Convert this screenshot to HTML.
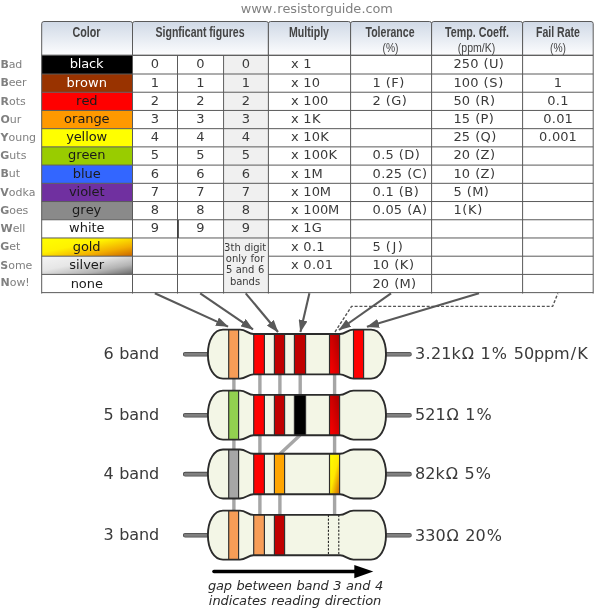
<!DOCTYPE html><html><head><meta charset="utf-8"><title>Resistor color code</title>
<style>html,body{margin:0;padding:0;background:#fff}svg{display:block}text{font-family:"DejaVu Sans","Liberation Sans",sans-serif;fill:#3a3a3a}.h{font-family:"Liberation Sans",sans-serif;font-weight:bold;font-size:14.1px;fill:#444}.s{font-family:"Liberation Sans",sans-serif;font-size:12.3px;fill:#444}.c{font-size:13px;text-anchor:middle}.m{font-size:10.4px;fill:#808080}.m tspan{font-weight:bold}.l{font-size:15px}</style></head><body>
<svg width="600" height="609" viewBox="0 0 600 609">
<defs><linearGradient id="hg" x1="0" y1="0" x2="0" y2="1"><stop offset="0" stop-color="#d0d9e6"/><stop offset="0.5" stop-color="#e6ebf2"/><stop offset="1" stop-color="#fdfdfe"/></linearGradient><linearGradient id="gold" x1="0" y1="0" x2="1" y2="1"><stop offset="0" stop-color="#ffff00"/><stop offset="0.4" stop-color="#fff200"/><stop offset="0.72" stop-color="#f2ad00"/><stop offset="1" stop-color="#c86400"/></linearGradient><linearGradient id="silver" x1="0" y1="0" x2="1" y2="1"><stop offset="0" stop-color="#f4f4f4"/><stop offset="0.4" stop-color="#e6e6e6"/><stop offset="0.72" stop-color="#b4b4b4"/><stop offset="1" stop-color="#686868"/></linearGradient><linearGradient id="goldb" x1="0" y1="0" x2="1" y2="1"><stop offset="0" stop-color="#ffff00"/><stop offset="0.5" stop-color="#ffe800"/><stop offset="1" stop-color="#d06000"/></linearGradient><linearGradient id="redb" x1="0" y1="1" x2="1" y2="0"><stop offset="0" stop-color="#ff0000"/><stop offset="1" stop-color="#a80000"/></linearGradient><marker id="ah" viewBox="0 0 12.5 9" refX="12" refY="4.5" markerWidth="12.5" markerHeight="9" markerUnits="userSpaceOnUse" orient="auto"><path d="M0,0 L12.5,4.5 L0,9 Z" fill="#595959"/></marker></defs>
<rect width="600" height="609" fill="#fff"/>
<text style="fill:#808080" x="240.70 251.25 261.81 272.65 277.15 282.44 290.25 296.95 300.50 307.24 312.28 320.24 325.57 333.68 341.82 345.31 353.30 361.41 365.62 372.49 380.35" y="13.30" font-size="12.9">www.resistorguide.com</text>
<path d="M41.7,55.3 V23.7 Q41.7,21.5 43.900000000000006,21.5 H130.3 Q132.5,21.5 132.5,23.7 V55.3 Z" fill="url(#hg)" stroke="#5a5a5a" stroke-width="1"/>
<path d="M132.5,55.3 V23.7 Q132.5,21.5 134.7,21.5 H266.2 Q268.4,21.5 268.4,23.7 V55.3 Z" fill="url(#hg)" stroke="#5a5a5a" stroke-width="1"/>
<path d="M268.4,55.3 V23.7 Q268.4,21.5 270.59999999999997,21.5 H348.40000000000003 Q350.6,21.5 350.6,23.7 V55.3 Z" fill="url(#hg)" stroke="#5a5a5a" stroke-width="1"/>
<path d="M350.6,55.3 V23.7 Q350.6,21.5 352.8,21.5 H429.40000000000003 Q431.6,21.5 431.6,23.7 V55.3 Z" fill="url(#hg)" stroke="#5a5a5a" stroke-width="1"/>
<path d="M431.6,55.3 V23.7 Q431.6,21.5 433.8,21.5 H520.4 Q522.6,21.5 522.6,23.7 V55.3 Z" fill="url(#hg)" stroke="#5a5a5a" stroke-width="1"/>
<path d="M522.6,55.3 V23.7 Q522.6,21.5 524.8000000000001,21.5 H591.0 Q593.2,21.5 593.2,23.7 V55.3 Z" fill="url(#hg)" stroke="#5a5a5a" stroke-width="1"/>
<rect x="41.7" y="55.30" width="90.8" height="18.70" fill="#000000"/>
<rect x="41.7" y="74.00" width="90.8" height="18.22" fill="#993300"/>
<rect x="41.7" y="92.22" width="90.8" height="18.22" fill="#ff0000"/>
<rect x="41.7" y="110.44" width="90.8" height="18.22" fill="#ff9900"/>
<rect x="41.7" y="128.66" width="90.8" height="18.22" fill="#ffff00"/>
<rect x="41.7" y="146.88" width="90.8" height="18.22" fill="#99cc00"/>
<rect x="41.7" y="165.10" width="90.8" height="18.22" fill="#3366ff"/>
<rect x="41.7" y="183.32" width="90.8" height="18.22" fill="#7030a0"/>
<rect x="41.7" y="201.54" width="90.8" height="18.22" fill="#8a8a8a"/>
<rect x="41.7" y="219.76" width="90.8" height="18.22" fill="#ffffff"/>
<rect x="41.7" y="237.98" width="90.8" height="18.22" fill="url(#gold)"/>
<rect x="41.7" y="256.20" width="90.8" height="18.22" fill="url(#silver)"/>
<rect x="41.7" y="274.42" width="90.8" height="18.22" fill="#ffffff"/>
<rect x="224.4" y="56.099999999999994" width="43.59999999999998" height="236.53999999999996" fill="#f0f0f0"/>
<path d="M41.7,55.30 H593.2" stroke="#5a5a5a" stroke-width="1" fill="none"/>
<path d="M41.7,74.00 H593.2" stroke="#5a5a5a" stroke-width="1" fill="none"/>
<path d="M41.7,92.22 H593.2" stroke="#5a5a5a" stroke-width="1" fill="none"/>
<path d="M41.7,110.44 H593.2" stroke="#5a5a5a" stroke-width="1" fill="none"/>
<path d="M41.7,128.66 H593.2" stroke="#5a5a5a" stroke-width="1" fill="none"/>
<path d="M41.7,146.88 H593.2" stroke="#5a5a5a" stroke-width="1" fill="none"/>
<path d="M41.7,165.10 H593.2" stroke="#5a5a5a" stroke-width="1" fill="none"/>
<path d="M41.7,183.32 H593.2" stroke="#5a5a5a" stroke-width="1" fill="none"/>
<path d="M41.7,201.54 H593.2" stroke="#5a5a5a" stroke-width="1" fill="none"/>
<path d="M41.7,219.76 H593.2" stroke="#5a5a5a" stroke-width="1" fill="none"/>
<path d="M41.7,237.98 H593.2" stroke="#5a5a5a" stroke-width="1" fill="none"/>
<path d="M41.7,256.20 H223.6 M268.4,256.20 H593.2" stroke="#5a5a5a" stroke-width="1" fill="none"/>
<path d="M41.7,274.42 H223.6 M268.4,274.42 H593.2" stroke="#5a5a5a" stroke-width="1" fill="none"/>
<path d="M41.7,292.64 H593.2" stroke="#5a5a5a" stroke-width="1" fill="none"/>
<path d="M41.7,55.3 V293.53999999999996" stroke="#5a5a5a" stroke-width="1" fill="none"/>
<path d="M132.5,55.3 V293.53999999999996" stroke="#5a5a5a" stroke-width="1" fill="none"/>
<path d="M177.5,55.3 V293.53999999999996" stroke="#5a5a5a" stroke-width="1" fill="none"/>
<path d="M223.6,55.3 V293.53999999999996" stroke="#5a5a5a" stroke-width="1" fill="none"/>
<path d="M268.4,55.3 V293.53999999999996" stroke="#5a5a5a" stroke-width="1" fill="none"/>
<path d="M350.6,55.3 V293.53999999999996" stroke="#5a5a5a" stroke-width="1" fill="none"/>
<path d="M431.6,55.3 V293.53999999999996" stroke="#5a5a5a" stroke-width="1" fill="none"/>
<path d="M522.6,55.3 V293.53999999999996" stroke="#5a5a5a" stroke-width="1" fill="none"/>
<path d="M593.2,55.3 V293.53999999999996" stroke="#5a5a5a" stroke-width="1" fill="none"/>
<path d="M178,220.06 V237.98" stroke="#3c3c3c" stroke-width="1.7" fill="none"/>
<text class="h" x="86.5" y="36.9" text-anchor="middle" textLength="28" lengthAdjust="spacingAndGlyphs">Color</text>
<text class="h" x="200" y="36.9" text-anchor="middle" textLength="89" lengthAdjust="spacingAndGlyphs">Signficant figures</text>
<text class="h" x="309" y="36.9" text-anchor="middle" textLength="40" lengthAdjust="spacingAndGlyphs">Multiply</text>
<text class="h" x="390" y="36.9" text-anchor="middle" textLength="49" lengthAdjust="spacingAndGlyphs">Tolerance</text>
<text class="s" x="390.5" y="52" text-anchor="middle" textLength="16" lengthAdjust="spacingAndGlyphs">(%)</text>
<text class="h" x="477" y="36.9" text-anchor="middle" textLength="64" lengthAdjust="spacingAndGlyphs">Temp. Coeff.</text>
<text class="s" x="476.5" y="52" text-anchor="middle" textLength="37.5" lengthAdjust="spacingAndGlyphs">(ppm/K)</text>
<text class="h" x="558" y="36.9" text-anchor="middle" textLength="44" lengthAdjust="spacingAndGlyphs">Fail Rate</text>
<text class="s" x="558" y="52" text-anchor="middle" textLength="16" lengthAdjust="spacingAndGlyphs">(%)</text>
<text style="fill:#808080" x="0.40 8.72 15.33" y="67.85" font-size="11"><tspan font-weight="bold">B</tspan>ad</text>
<text style="fill:#ffffff" x="69.65 77.80 81.31 89.02 96.06" y="68.15" font-size="13">black</text>
<text x="150.86" y="68.15" font-size="13">0</text>
<text x="196.36" y="68.15" font-size="13">0</text>
<text x="241.86" y="68.15" font-size="13">0</text>
<text x="291.10 299.02 303.37" y="68.15" font-size="13">x 1</text>
<text x="453.60 461.87 470.13 478.63 483.40 488.88 498.81" y="68.15" font-size="13">250 (U)</text>
<text style="fill:#808080" x="0.40 8.68 15.23 21.98" y="86.31" font-size="11"><tspan font-weight="bold">B</tspan>eer</text>
<text style="fill:#ffffff" x="66.42 74.70 80.12 88.04 98.67" y="86.61" font-size="13">brown</text>
<text x="150.86" y="86.61" font-size="13">1</text>
<text x="196.36" y="86.61" font-size="13">1</text>
<text x="241.86" y="86.61" font-size="13">1</text>
<text x="291.10 299.02 303.37 311.64" y="86.61" font-size="13">x 10</text>
<text x="372.60 381.09 385.86 391.34 399.24" y="86.61" font-size="13">1 (F)</text>
<text x="453.60 461.87 470.13 478.63 483.40 489.20 498.19" y="86.61" font-size="13">100 (S)</text>
<text x="553.76" y="86.61" font-size="13">1</text>
<text style="fill:#808080" x="0.47 8.98 15.69 20.01" y="104.53" font-size="11"><tspan font-weight="bold">R</tspan>ots</text>
<text style="fill:#1a1a1a" x="76.10 81.43 89.22" y="104.83" font-size="13">red</text>
<text x="150.86" y="104.83" font-size="13">2</text>
<text x="196.36" y="104.83" font-size="13">2</text>
<text x="241.86" y="104.83" font-size="13">2</text>
<text x="291.10 299.02 303.37 311.64 319.91" y="104.83" font-size="13">x 100</text>
<text x="372.60 381.09 385.86 391.35 401.84" y="104.83" font-size="13">2 (G)</text>
<text x="453.60 461.87 470.36 475.13 480.62 490.06" y="104.83" font-size="13">50 (R)</text>
<text x="547.26 555.83 560.26" y="104.83" font-size="13">0.1</text>
<text style="fill:#808080" x="0.40 9.75 16.80" y="122.75" font-size="11"><tspan font-weight="bold">O</tspan>ur</text>
<text style="fill:#1a1a1a" x="64.00 72.03 77.40 85.28 93.44 101.49" y="123.05" font-size="13">orange</text>
<text x="150.86" y="123.05" font-size="13">3</text>
<text x="196.36" y="123.05" font-size="13">3</text>
<text x="241.86" y="123.05" font-size="13">3</text>
<text x="291.10 299.02 303.37 311.88" y="123.05" font-size="13">x 1K</text>
<text x="453.60 461.87 470.36 475.13 480.61 488.87" y="123.05" font-size="13">15 (P)</text>
<text x="543.13 551.70 556.13 564.40" y="123.05" font-size="13">0.01</text>
<text style="fill:#808080" x="0.47 8.48 15.18 22.14 29.05" y="140.97" font-size="11"><tspan font-weight="bold">Y</tspan>oung</text>
<text style="fill:#1a1a1a" x="66.15 73.72 81.57 85.13 88.69 96.61" y="141.27" font-size="13">yellow</text>
<text x="150.86" y="141.27" font-size="13">4</text>
<text x="196.36" y="141.27" font-size="13">4</text>
<text x="241.86" y="141.27" font-size="13">4</text>
<text x="291.10 299.02 303.37 311.64 320.15" y="141.27" font-size="13">x 10K</text>
<text x="453.60 461.87 470.36 475.13 480.61 491.26" y="141.27" font-size="13">25 (Q)</text>
<text x="539.00 547.57 552.00 560.26 568.53" y="141.27" font-size="13">0.001</text>
<text style="fill:#808080" x="0.35 9.33 16.31 20.63" y="159.19" font-size="11"><tspan font-weight="bold">G</tspan>uts</text>
<text style="fill:#1a1a1a" x="67.94 76.21 81.54 89.29 97.15" y="159.49" font-size="13">green</text>
<text x="150.86" y="159.49" font-size="13">5</text>
<text x="196.36" y="159.49" font-size="13">5</text>
<text x="241.86" y="159.49" font-size="13">5</text>
<text x="291.10 299.02 303.37 311.64 319.91 328.42" y="159.49" font-size="13">x 100K</text>
<text x="372.60 381.17 385.60 394.09 398.86 404.35 414.78" y="159.49" font-size="13">0.5 (D)</text>
<text x="453.60 461.87 470.36 475.13 480.61 489.93" y="159.49" font-size="13">20 (Z)</text>
<text style="fill:#808080" x="0.40 8.78 15.76" y="177.41" font-size="11"><tspan font-weight="bold">B</tspan>ut</text>
<text style="fill:#1a1a1a" x="72.80 80.96 84.54 92.65" y="177.71" font-size="13">blue</text>
<text x="150.86" y="177.71" font-size="13">6</text>
<text x="196.36" y="177.71" font-size="13">6</text>
<text x="241.86" y="177.71" font-size="13">6</text>
<text x="291.10 299.02 303.37 311.51" y="177.71" font-size="13">x 1M</text>
<text x="372.60 381.17 385.60 393.87 402.36 407.13 412.61 422.10" y="177.71" font-size="13">0.25 (C)</text>
<text x="453.60 461.87 470.36 475.13 480.61 489.93" y="177.71" font-size="13">10 (Z)</text>
<text style="fill:#808080" x="0.35 8.79 15.43 22.42 28.79" y="195.63" font-size="11"><tspan font-weight="bold">V</tspan>odka</text>
<text style="fill:#1a1a1a" x="68.91 76.58 80.14 88.03 91.50 99.38" y="195.93" font-size="13">violet</text>
<text x="150.86" y="195.93" font-size="13">7</text>
<text x="196.36" y="195.93" font-size="13">7</text>
<text x="241.86" y="195.93" font-size="13">7</text>
<text x="291.10 299.02 303.37 311.64 319.78" y="195.93" font-size="13">x 10M</text>
<text x="372.60 381.17 385.60 394.09 398.86 404.35 413.68" y="195.93" font-size="13">0.1 (B)</text>
<text x="453.60 462.09 466.86 472.22 483.72" y="195.93" font-size="13">5 (M)</text>
<text style="fill:#808080" x="0.35 9.31 15.90 22.56" y="213.85" font-size="11"><tspan font-weight="bold">G</tspan>oes</text>
<text style="fill:#1a1a1a" x="72.08 80.36 85.68 93.55" y="214.15" font-size="13">grey</text>
<text x="150.86" y="214.15" font-size="13">8</text>
<text x="196.36" y="214.15" font-size="13">8</text>
<text x="241.86" y="214.15" font-size="13">8</text>
<text x="291.10 299.02 303.37 311.64 319.91 328.05" y="214.15" font-size="13">x 100M</text>
<text x="372.60 381.17 385.60 393.87 402.36 407.13 412.61 421.92" y="214.15" font-size="13">0.05 (A)</text>
<text x="453.60 462.28 468.01 477.19" y="214.15" font-size="13">1(K)</text>
<text style="fill:#808080" x="0.54 12.70 19.34 22.36" y="232.07" font-size="11"><tspan font-weight="bold">W</tspan>ell</text>
<text style="fill:#1a1a1a" x="69.05 79.68 87.89 91.49 96.47" y="232.37" font-size="13">white</text>
<text x="150.86" y="232.37" font-size="13">9</text>
<text x="196.36" y="232.37" font-size="13">9</text>
<text x="241.86" y="232.37" font-size="13">9</text>
<text x="291.10 299.02 303.37 311.64" y="232.37" font-size="13">x 1G</text>
<text style="fill:#808080" x="0.35 9.23 15.90" y="250.29" font-size="11"><tspan font-weight="bold">G</tspan>et</text>
<text style="fill:#1a1a1a" x="72.80 80.94 88.84 92.35" y="250.59" font-size="13">gold</text>
<text x="291.10 299.02 303.37 311.94 316.37" y="250.59" font-size="13">x 0.1</text>
<text x="372.60 381.09 385.86 392.39 397.68" y="250.59" font-size="13">5 (J)</text>
<text style="fill:#808080" x="0.34 8.18 14.88 25.48" y="268.51" font-size="11"><tspan font-weight="bold">S</tspan>ome</text>
<text style="fill:#1a1a1a" x="69.25 76.00 79.56 83.15 90.72 98.70" y="268.81" font-size="13">silver</text>
<text x="291.10 299.02 303.37 311.94 316.37 324.64" y="268.81" font-size="13">x 0.01</text>
<text x="372.60 380.87 389.36 394.13 399.86 409.04" y="268.81" font-size="13">10 (K)</text>
<text style="fill:#808080" x="0.45 9.68 16.38 25.34" y="286.33" font-size="11"><tspan font-weight="bold">N</tspan>ow!</text>
<text style="fill:#1a1a1a" x="70.65 78.85 86.77 94.88" y="287.83" font-size="13">none</text>
<text x="372.60 380.87 389.36 394.13 399.49 410.99" y="287.83" font-size="13">20 (M)</text>
<text x="224.08 230.45 234.38 240.89 244.18 250.45 253.15 259.42 262.18" y="250.50" font-size="10">3th digit</text>
<text x="225.86 231.95 238.26 241.02 247.11 250.46 253.96 260.13" y="261.95" font-size="10">only for</text>
<text x="225.93 232.47 235.76 241.82 248.10 254.56 257.90" y="273.40" font-size="10">5 and 6</text>
<text x="230.04 236.27 242.33 248.61 254.90" y="284.85" font-size="10">bands</text>
<path d="M233.9,378.15 V511.10" stroke="#a6a6a6" stroke-width="3.4" fill="none"/>
<path d="M259.9,374.15 V515.10" stroke="#a6a6a6" stroke-width="3.4" fill="none"/>
<path d="M279.9,374.15 V395.10" stroke="#a6a6a6" stroke-width="3.4" fill="none"/>
<path d="M300.2,374.15 V395.10" stroke="#a6a6a6" stroke-width="3.4" fill="none"/>
<path d="M334.6,374.15 V515.10" stroke="#a6a6a6" stroke-width="3.4" fill="none"/>
<path d="M279.9,494.00 V515.10" stroke="#a6a6a6" stroke-width="3.4" fill="none"/>
<path d="M300.2,435.10 L279.9,454.00" stroke="#a6a6a6" stroke-width="3.4" fill="none"/>
<path d="M185.2,354.30 H208 M386,354.30 H409.5" stroke="#4a4a4a" stroke-width="4.6" stroke-linecap="round" fill="none"/>
<path d="M185.2,354.30 H208 M386,354.30 H409.5" stroke="#808080" stroke-width="3" stroke-linecap="round" fill="none"/>
<path d="M253.5,333.95 C248,333.95 246,329.65 240,329.65 L223.0,329.65 C214.17,329.65 207.9,339.82 207.9,354.15 C207.9,368.48 214.17,378.65 223.0,378.65 L240,378.65 C246,378.65 248,374.35 253.5,374.35 L340,374.35 C345.5,374.35 347.5,378.65 353.5,378.65 L371.0,378.65 C379.77,378.65 386.0,368.48 386.0,354.15 C386.0,339.82 379.77,329.65 371.0,329.65 L353.5,329.65 C347.5,329.65 345.5,333.95 340,333.95 Z" fill="#f3f6e6"/>
<rect x="228.7" y="329.65" width="9.90" height="49.00" fill="#f79d57"/>
<path d="M228.7,329.65 V378.65 M238.6,329.65 V378.65" stroke="#2e2e2e" stroke-width="1.15" fill="none"/>
<rect x="253.7" y="333.95" width="10.70" height="40.40" fill="#ff0000"/>
<path d="M253.7,333.95 V374.35 M264.4,333.95 V374.35" stroke="#2e2e2e" stroke-width="1.15" fill="none"/>
<rect x="274.4" y="333.95" width="10.20" height="40.40" fill="#c00000"/>
<path d="M274.4,333.95 V374.35 M284.6,333.95 V374.35" stroke="#2e2e2e" stroke-width="1.15" fill="none"/>
<rect x="294.4" y="333.95" width="11.20" height="40.40" fill="#c00000"/>
<path d="M294.4,333.95 V374.35 M305.6,333.95 V374.35" stroke="#2e2e2e" stroke-width="1.15" fill="none"/>
<rect x="329.5" y="333.95" width="10.10" height="40.40" fill="url(#redb)"/>
<path d="M329.5,333.95 V374.35 M339.6,333.95 V374.35" stroke="#2e2e2e" stroke-width="1.15" fill="none"/>
<rect x="353.5" y="329.65" width="10.10" height="49.00" fill="#ff0000"/>
<path d="M353.5,329.65 V378.65 M363.6,329.65 V378.65" stroke="#2e2e2e" stroke-width="1.15" fill="none"/>
<path d="M253.5,333.95 C248,333.95 246,329.65 240,329.65 L223.0,329.65 C214.17,329.65 207.9,339.82 207.9,354.15 C207.9,368.48 214.17,378.65 223.0,378.65 L240,378.65 C246,378.65 248,374.35 253.5,374.35 L340,374.35 C345.5,374.35 347.5,378.65 353.5,378.65 L371.0,378.65 C379.77,378.65 386.0,368.48 386.0,354.15 C386.0,339.82 379.77,329.65 371.0,329.65 L353.5,329.65 C347.5,329.65 345.5,333.95 340,333.95 Z" fill="none" stroke="#2b2b2b" stroke-width="1.9"/>
<path d="M185.2,415.25 H208 M386,415.25 H409.5" stroke="#4a4a4a" stroke-width="4.6" stroke-linecap="round" fill="none"/>
<path d="M185.2,415.25 H208 M386,415.25 H409.5" stroke="#808080" stroke-width="3" stroke-linecap="round" fill="none"/>
<path d="M253.5,394.90 C248,394.90 246,390.60 240,390.60 L223.0,390.60 C214.17,390.60 207.9,400.77 207.9,415.10 C207.9,429.43 214.17,439.60 223.0,439.60 L240,439.60 C246,439.60 248,435.30 253.5,435.30 L340,435.30 C345.5,435.30 347.5,439.60 353.5,439.60 L371.0,439.60 C379.77,439.60 386.0,429.43 386.0,415.10 C386.0,400.77 379.77,390.60 371.0,390.60 L353.5,390.60 C347.5,390.60 345.5,394.90 340,394.90 Z" fill="#f3f6e6"/>
<rect x="228.7" y="390.60" width="9.90" height="49.00" fill="#92d050"/>
<path d="M228.7,390.60 V439.60 M238.6,390.60 V439.60" stroke="#2e2e2e" stroke-width="1.15" fill="none"/>
<rect x="253.7" y="394.90" width="10.70" height="40.40" fill="#ff0000"/>
<path d="M253.7,394.90 V435.30 M264.4,394.90 V435.30" stroke="#2e2e2e" stroke-width="1.15" fill="none"/>
<rect x="274.4" y="394.90" width="10.20" height="40.40" fill="#c00000"/>
<path d="M274.4,394.90 V435.30 M284.6,394.90 V435.30" stroke="#2e2e2e" stroke-width="1.15" fill="none"/>
<rect x="294.4" y="394.90" width="11.20" height="40.40" fill="#000000"/>
<path d="M294.4,394.90 V435.30 M305.6,394.90 V435.30" stroke="#2e2e2e" stroke-width="1.15" fill="none"/>
<rect x="329.5" y="394.90" width="10.10" height="40.40" fill="url(#redb)"/>
<path d="M329.5,394.90 V435.30 M339.6,394.90 V435.30" stroke="#2e2e2e" stroke-width="1.15" fill="none"/>
<path d="M253.5,394.90 C248,394.90 246,390.60 240,390.60 L223.0,390.60 C214.17,390.60 207.9,400.77 207.9,415.10 C207.9,429.43 214.17,439.60 223.0,439.60 L240,439.60 C246,439.60 248,435.30 253.5,435.30 L340,435.30 C345.5,435.30 347.5,439.60 353.5,439.60 L371.0,439.60 C379.77,439.60 386.0,429.43 386.0,415.10 C386.0,400.77 379.77,390.60 371.0,390.60 L353.5,390.60 C347.5,390.60 345.5,394.90 340,394.90 Z" fill="none" stroke="#2b2b2b" stroke-width="1.9"/>
<path d="M185.2,474.15 H208 M386,474.15 H409.5" stroke="#4a4a4a" stroke-width="4.6" stroke-linecap="round" fill="none"/>
<path d="M185.2,474.15 H208 M386,474.15 H409.5" stroke="#808080" stroke-width="3" stroke-linecap="round" fill="none"/>
<path d="M253.5,453.80 C248,453.80 246,449.50 240,449.50 L223.0,449.50 C214.17,449.50 207.9,459.67 207.9,474.00 C207.9,488.33 214.17,498.50 223.0,498.50 L240,498.50 C246,498.50 248,494.20 253.5,494.20 L340,494.20 C345.5,494.20 347.5,498.50 353.5,498.50 L371.0,498.50 C379.77,498.50 386.0,488.33 386.0,474.00 C386.0,459.67 379.77,449.50 371.0,449.50 L353.5,449.50 C347.5,449.50 345.5,453.80 340,453.80 Z" fill="#f3f6e6"/>
<rect x="228.7" y="449.50" width="9.90" height="49.00" fill="#a6a6a6"/>
<path d="M228.7,449.50 V498.50 M238.6,449.50 V498.50" stroke="#2e2e2e" stroke-width="1.15" fill="none"/>
<rect x="253.7" y="453.80" width="10.70" height="40.40" fill="#ff0000"/>
<path d="M253.7,453.80 V494.20 M264.4,453.80 V494.20" stroke="#2e2e2e" stroke-width="1.15" fill="none"/>
<rect x="274.4" y="453.80" width="10.20" height="40.40" fill="#ffa500"/>
<path d="M274.4,453.80 V494.20 M284.6,453.80 V494.20" stroke="#2e2e2e" stroke-width="1.15" fill="none"/>
<rect x="329.5" y="453.80" width="10.10" height="40.40" fill="url(#goldb)"/>
<path d="M329.5,453.80 V494.20 M339.6,453.80 V494.20" stroke="#2e2e2e" stroke-width="1.15" fill="none"/>
<path d="M253.5,453.80 C248,453.80 246,449.50 240,449.50 L223.0,449.50 C214.17,449.50 207.9,459.67 207.9,474.00 C207.9,488.33 214.17,498.50 223.0,498.50 L240,498.50 C246,498.50 248,494.20 253.5,494.20 L340,494.20 C345.5,494.20 347.5,498.50 353.5,498.50 L371.0,498.50 C379.77,498.50 386.0,488.33 386.0,474.00 C386.0,459.67 379.77,449.50 371.0,449.50 L353.5,449.50 C347.5,449.50 345.5,453.80 340,453.80 Z" fill="none" stroke="#2b2b2b" stroke-width="1.9"/>
<path d="M185.2,535.25 H208 M386,535.25 H409.5" stroke="#4a4a4a" stroke-width="4.6" stroke-linecap="round" fill="none"/>
<path d="M185.2,535.25 H208 M386,535.25 H409.5" stroke="#808080" stroke-width="3" stroke-linecap="round" fill="none"/>
<path d="M253.5,514.90 C248,514.90 246,510.60 240,510.60 L223.0,510.60 C214.17,510.60 207.9,520.77 207.9,535.10 C207.9,549.43 214.17,559.60 223.0,559.60 L240,559.60 C246,559.60 248,555.30 253.5,555.30 L340,555.30 C345.5,555.30 347.5,559.60 353.5,559.60 L371.0,559.60 C379.77,559.60 386.0,549.43 386.0,535.10 C386.0,520.77 379.77,510.60 371.0,510.60 L353.5,510.60 C347.5,510.60 345.5,514.90 340,514.90 Z" fill="#f3f6e6"/>
<rect x="228.7" y="510.60" width="9.90" height="49.00" fill="#f79d57"/>
<path d="M228.7,510.60 V559.60 M238.6,510.60 V559.60" stroke="#2e2e2e" stroke-width="1.15" fill="none"/>
<rect x="253.7" y="514.90" width="10.70" height="40.40" fill="#f79d57"/>
<path d="M253.7,514.90 V555.30 M264.4,514.90 V555.30" stroke="#2e2e2e" stroke-width="1.15" fill="none"/>
<rect x="274.4" y="514.90" width="10.20" height="40.40" fill="#c00000"/>
<path d="M274.4,514.90 V555.30 M284.6,514.90 V555.30" stroke="#2e2e2e" stroke-width="1.15" fill="none"/>
<path d="M328.4,514.90 V555.30 M338.8,514.90 V555.30" stroke="#111" stroke-width="1" stroke-dasharray="2.2,1.5" fill="none"/>
<path d="M253.5,514.90 C248,514.90 246,510.60 240,510.60 L223.0,510.60 C214.17,510.60 207.9,520.77 207.9,535.10 C207.9,549.43 214.17,559.60 223.0,559.60 L240,559.60 C246,559.60 248,555.30 253.5,555.30 L340,555.30 C345.5,555.30 347.5,559.60 353.5,559.60 L371.0,559.60 C379.77,559.60 386.0,549.43 386.0,535.10 C386.0,520.77 379.77,510.60 371.0,510.60 L353.5,510.60 C347.5,510.60 345.5,514.90 340,514.90 Z" fill="none" stroke="#2b2b2b" stroke-width="1.9"/>
<text x="103.50 113.98 119.26 129.26 139.00 149.07" y="359.35" font-size="16.05">6 band</text>
<text x="415.00 425.58 431.05 441.26 451.57 461.82 475.20 480.58 491.80 508.33 513.71 523.91 534.03 544.03 554.11 570.68 577.32" y="359.35" font-size="16.05">3.21kΩ 1% 50ppm/K</text>
<text x="103.50 113.98 119.26 129.26 139.00 149.07" y="420.30" font-size="16.05">5 band</text>
<text x="415.00 425.21 435.41 446.47 459.86 465.23 476.45" y="420.30" font-size="16.05">521Ω 1%</text>
<text x="103.50 113.98 119.26 129.26 139.00 149.07" y="478.70" font-size="16.05">4 band</text>
<text x="415.00 425.21 435.52 445.77 459.15 464.53 475.75" y="479.20" font-size="16.05">82kΩ 5%</text>
<text x="103.50 113.98 119.26 129.26 139.00 149.07" y="540.30" font-size="16.05">3 band</text>
<text x="415.00 425.21 435.41 446.47 459.86 465.23 475.44 486.66" y="540.80" font-size="16.05">330Ω 20%</text>
<path d="M154.8,293.3 L228,326.6" stroke="#595959" stroke-width="2.1" fill="none" marker-end="url(#ah)"/>
<path d="M200.2,293.3 L253,329.4" stroke="#595959" stroke-width="2.1" fill="none" marker-end="url(#ah)"/>
<path d="M245.7,293.3 L278,332" stroke="#595959" stroke-width="2.1" fill="none" marker-end="url(#ah)"/>
<path d="M309.4,293.3 L300.4,332" stroke="#595959" stroke-width="2.1" fill="none" marker-end="url(#ah)"/>
<path d="M391,293.3 L339,330" stroke="#595959" stroke-width="2.1" fill="none" marker-end="url(#ah)"/>
<path d="M479,293.3 L367,326.8" stroke="#595959" stroke-width="2.1" fill="none" marker-end="url(#ah)"/>
<path d="M335,332 L351.5,306.4 H552.6 L557.8,293.5" stroke="#555" stroke-width="1.4" stroke-dasharray="3,1.8" fill="none"/>
<path d="M214,571.5 H357" stroke="#000" stroke-width="3.6" stroke-linecap="round" fill="none"/>
<path d="M354.3,565 L373.3,571.6 L354.3,578.2 Z" fill="#000"/>
<text style="font-style:italic;fill:#2a2a2a" x="207.96 216.05 223.87 232.26 236.54 244.59 252.48 257.59 268.10 275.84 283.71 292.17 296.45 304.55 312.43 320.59 328.98 333.34 341.83 346.11 353.99 362.15 370.55 374.90" y="590.20" font-size="13">gap between band 3 and 4</text>
<text style="font-style:italic;fill:#2a2a2a" x="208.84 212.42 220.58 228.73 232.13 239.01 246.91 251.90 259.77 266.77 271.22 276.55 284.34 292.16 300.31 303.89 312.05 320.44 324.72 332.87 336.56 341.89 349.57 356.54 361.63 365.18 373.10" y="604.60" font-size="13">indicates reading direction</text>
</svg></body></html>
